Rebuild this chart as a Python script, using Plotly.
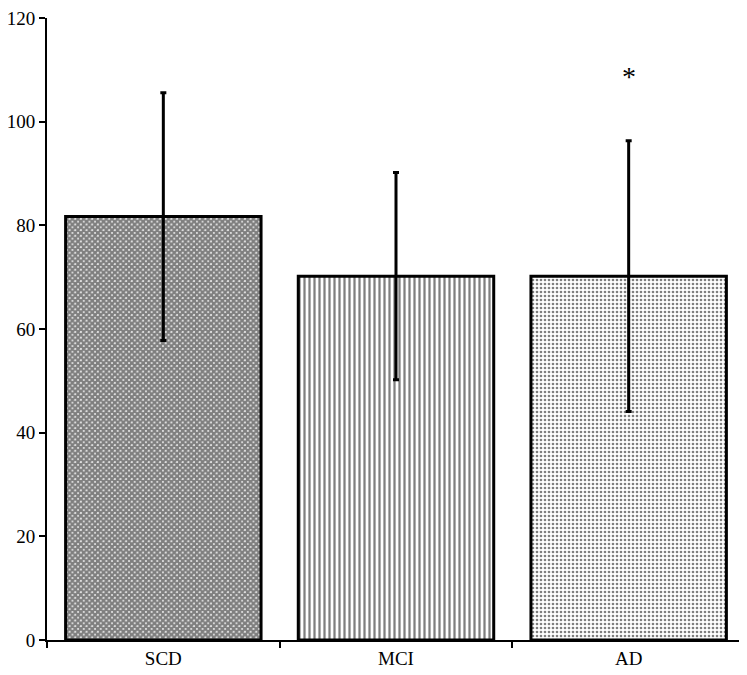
import plotly.graph_objects as go

groups = ["SCD", "MCI", "AD"]
means = [81.7, 70.2, 70.2]
errors = [23.9, 20.0, 26.1]
patterns = ["x", "|", "."]
pattern_sizes = [4, 5, 4]
pattern_solidity = [0.85, 0.45, 0.35]
star_group = "AD"
star_y = 108.7

fig = go.Figure()

fig.add_trace(go.Bar(
    x=groups, y=means,
    error_y=dict(type="data", array=errors, color="black", thickness=3, width=3),
    marker=dict(
        color="white",
        line=dict(color="black", width=3),
        pattern=dict(shape=patterns, size=pattern_sizes, solidity=pattern_solidity,
                     fgcolor="black", bgcolor="white", fillmode="overlay"),
    ),
    showlegend=False,
))

fig.add_annotation(x=star_group, y=star_y, text="*", showarrow=False,
                   font=dict(family="Liberation Serif", size=28, color="black"))

# page body adds ~8px, margins compensate for it
fig.update_layout(
    width=747, height=675,
    margin=dict(l=39, r=10, t=10, b=43),
    plot_bgcolor="white", paper_bgcolor="white",
    bargap=0.16,
    font=dict(family="Liberation Serif", size=19, color="black"),
)
fig.update_xaxes(showline=True, linecolor="black", linewidth=2,
                 ticks="outside", tickson="boundaries", ticklen=6, tickwidth=2,
                 tickcolor="black", showgrid=False, automargin=False)
fig.update_yaxes(range=[0, 120], dtick=20, showline=True, linecolor="black", linewidth=2,
                 ticks="outside", ticklen=6, tickwidth=2, tickcolor="black",
                 showgrid=False, zeroline=False, ticklabeloverflow="allow",
                 automargin=False)

fig.write_html("out.html")
